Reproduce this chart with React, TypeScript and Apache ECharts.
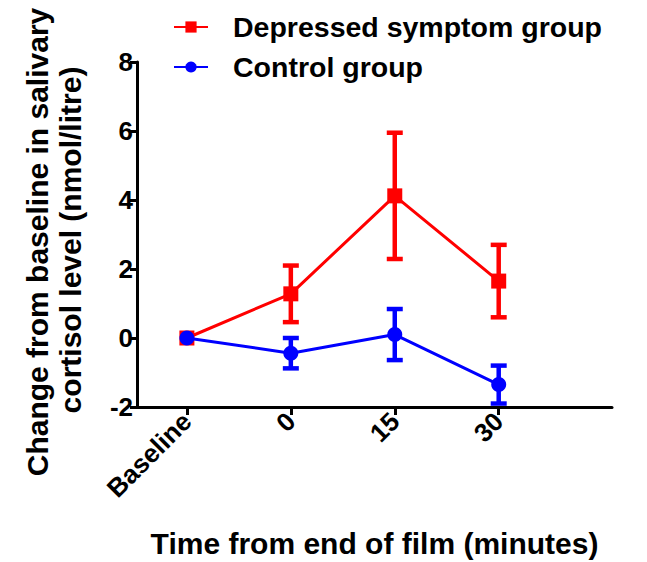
import React, { useEffect, useRef } from "react";
import * as echarts from "echarts";

const categories = ["Baseline", "0", "15", "30"];
const depressedMean = [0, 1.28, 4.12, 1.65];
const depressedErr = [0, 0.82, 1.83, 1.05];
const controlMean = [0, -0.44, 0.1, -1.35];
const controlErr = [0, 0.44, 0.74, 0.55];
const yTicks = [-2, 0, 2, 4, 6, 8];
const seriesNames = ["Depressed symptom group", "Control group"];
const yTitleLines = ["Change from baseline in salivary", "cortisol level (nmol/litre)"];
const xTitle = "Time from end of film (minutes)";

const FONT = "'Liberation Sans', Arial, Helvetica, sans-serif";
const RED = "#ff0000";
const BLUE = "#0000ff";

function errorSeries(name: string, means: number[], errs: number[], color: string, z: number) {
  return {
    type: "custom",
    name,
    z,
    silent: true,
    encode: { x: 0, y: 1 },
    data: means.map((m, i) => [i, m, errs[i]]),
    renderItem: (params: any, api: any) => {
      const x = api.value(0);
      const m = api.value(1);
      const e = api.value(2);
      if (!e) return { type: "group", children: [] };
      const top = api.coord([x, m + e]);
      const bot = api.coord([x, m - e]);
      const cap = 8;
      const style = { stroke: color, lineWidth: 4.5 };
      return {
        type: "group",
        children: [
          { type: "line", shape: { x1: top[0], y1: top[1], x2: bot[0], y2: bot[1] }, style },
          { type: "line", shape: { x1: top[0] - cap, y1: top[1], x2: top[0] + cap, y2: top[1] }, style },
          { type: "line", shape: { x1: bot[0] - cap, y1: bot[1], x2: bot[0] + cap, y2: bot[1] }, style },
        ],
      };
    },
  };
}

export default function App() {
  const ref = useRef<HTMLDivElement>(null);
  useEffect(() => {
    if (!ref.current) return;
    const chart = echarts.init(ref.current, null, { renderer: "svg" });
    const textBase = { fontFamily: FONT, fontWeight: "bold", color: "#000" };
    chart.setOption({
      animation: false,
      backgroundColor: "#fff",
      legend: {
        data: seriesNames,
        orient: "vertical",
        left: 168,
        top: 7,
        itemWidth: 34,
        itemHeight: 14,
        itemGap: 10,
        textStyle: { ...textBase, fontSize: 28.5, lineHeight: 30, padding: [0, 0, 0, 20] },
      },
      graphic: [
        {
          type: "text",
          x: 37,
          y: 242,
          rotation: Math.PI / 2,
          style: {
            text: yTitleLines[0],
            font: `bold 30px ${FONT}`,
            fill: "#000",
            align: "center",
            verticalAlign: "middle",
          },
        },
        {
          type: "text",
          x: 70,
          y: 240,
          rotation: Math.PI / 2,
          style: {
            text: yTitleLines[1],
            font: `bold 30px ${FONT}`,
            fill: "#000",
            align: "center",
            verticalAlign: "middle",
          },
        },
      ],
      grid: {
        left: 137,
        right: 35,
        top: 62,
        bottom: 155,
        containLabel: false,
        outerBoundsMode: "none",
      },
      xAxis: {
        type: "value",
        min: -0.48,
        max: 4.09,
        splitLine: { show: false },
        axisLine: { show: true, onZero: false, lineStyle: { color: "#000", width: 3 } },
        axisTick: { show: true, length: 8, lineStyle: { color: "#000", width: 3 }, customValues: [0, 1, 2, 3] },
        axisLabel: {
          ...textBase,
          fontSize: 26,
          rotate: 45,
          margin: 10,
          customValues: [0, 1, 2, 3],
          formatter: (v: number) => categories[Math.round(v)] ?? "",
        },
        name: xTitle,
        nameLocation: "middle",
        nameGap: 121,
        nameTextStyle: { ...textBase, fontSize: 30 },
      },
      yAxis: {
        type: "value",
        min: yTicks[0],
        max: yTicks[yTicks.length - 1],
        interval: 2,
        splitLine: { show: false },
        axisLine: { show: true, onZero: false, lineStyle: { color: "#000", width: 3 } },
        axisTick: { show: true, length: 7, lineStyle: { color: "#000", width: 3 } },
        axisLabel: { ...textBase, fontSize: 26, margin: 4 },
      },
      series: [
        errorSeries("err-depressed", depressedMean, depressedErr, RED, 2),
        {
          name: seriesNames[0],
          type: "line",
          z: 3,
          data: depressedMean.map((v, i) => [i, v]),
          symbol: "rect",
          symbolSize: 15,
          itemStyle: { color: RED },
          lineStyle: { color: RED, width: 3 },
        },
        errorSeries("err-control", controlMean, controlErr, BLUE, 4),
        {
          name: seriesNames[1],
          type: "line",
          z: 5,
          data: controlMean.map((v, i) => [i, v]),
          symbol: "circle",
          symbolSize: 15,
          itemStyle: { color: BLUE },
          lineStyle: { color: BLUE, width: 3 },
        },
      ],
    });
    return () => chart.dispose();
  }, []);
  return (
    <div
      ref={ref}
      style={{ position: "absolute", left: 0, top: 0, width: 647, height: 562 }}
    />
  );
}
